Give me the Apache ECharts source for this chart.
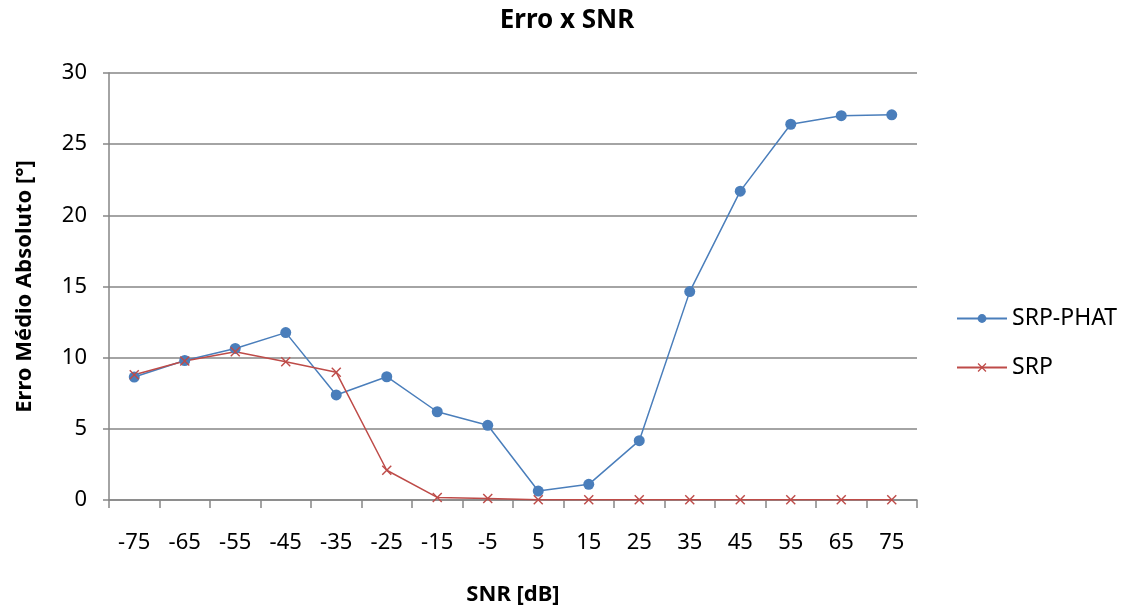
<!DOCTYPE html>
<html>
<head>
<meta charset="utf-8">
<script src="https://cdn.jsdelivr.net/npm/echarts@6/dist/echarts.min.js"></script>
<style>html,body{margin:0;padding:0;background:#fff;overflow:hidden}#c{width:1129px;height:612px}</style>
</head>
<body>
<div id="c"></div>
<script>
const categories = ['-75','-65','-55','-45','-35','-25','-15','-5','5','15','25','35','45','55','65','75'];
const srpPhat = [8.64, 9.8, 10.65, 11.76, 7.38, 8.66, 6.2, 5.25, 0.63, 1.1, 4.17, 14.64, 21.7, 26.4, 27.0, 27.06];
const srp = [8.8, 9.77, 10.42, 9.72, 8.97, 2.09, 0.18, 0.1, 0.02, 0.02, 0.02, 0.02, 0.02, 0.02, 0.02, 0.02];
const yTicks = {min: 0, max: 30, interval: 5};

const FONT = 'Noto Sans';
const crossPath = 'path://M1,0 L5,4 L9,0 L10,1 L6,5 L10,9 L9,10 L5,6 L1,10 L0,9 L4,5 L0,1 Z';

const chart = echarts.init(document.getElementById('c'), null, {renderer: 'canvas', width: 1129, height: 612});
chart.setOption({
  backgroundColor: '#fff',
  animation: false,
  title: {
    text: 'Erro x SNR',
    left: 562, top: 3, textAlign: 'center',
    textStyle: {fontFamily: FONT, fontWeight: 'bold', fontSize: 26, color: '#000'}
  },
  legend: {
    orient: 'vertical',
    left: 951, top: 299,
    itemWidth: 50, itemHeight: 11, itemGap: 20,
    textStyle: {fontFamily: FONT, fontSize: 23, color: '#000', lineHeight: 29},
    data: ['SRP-PHAT', 'SRP']
  },
  grid: {left: 109, right: 212, top: 73, bottom: 112, containLabel: false},
  xAxis: {
    type: 'category',
    data: categories,
    boundaryGap: true,
    name: 'SNR [dB]',
    nameLocation: 'middle',
    nameGap: 84,
    nameTextStyle: {fontFamily: FONT, fontWeight: 'bold', fontSize: 22, color: '#000'},
    axisLine: {lineStyle: {color: '#868686', width: 1.5}},
    axisTick: {show: true, alignWithLabel: false, length: 8, lineStyle: {color: '#868686', width: 1.5}},
    axisLabel: {fontFamily: FONT, fontSize: 22, color: '#000', margin: 32, interval: 0},
    splitLine: {show: false}
  },
  yAxis: {
    type: 'value',
    min: yTicks.min, max: yTicks.max, interval: yTicks.interval,
    name: 'Erro Médio Absoluto [°]',
    nameLocation: 'middle',
    nameGap: 73,
    nameRotate: 90,
    nameTextStyle: {fontFamily: FONT, fontWeight: 'bold', fontSize: 22, color: '#000'},
    axisLine: {show: true, lineStyle: {color: '#868686', width: 1.5}},
    axisTick: {show: true, length: 6, lineStyle: {color: '#868686', width: 1.5}},
    axisLabel: {fontFamily: FONT, fontSize: 22, color: '#000', margin: 22},
    splitLine: {show: true, lineStyle: {color: '#868686', width: 1.5}}
  },
  series: [
    {
      name: 'SRP-PHAT',
      type: 'line',
      data: srpPhat,
      symbol: 'circle',
      symbolSize: 11,
      itemStyle: {color: '#4a7ebb'},
      lineStyle: {color: '#4a7ebb', width: 1.5}
    },
    {
      name: 'SRP',
      type: 'line',
      data: srp,
      symbol: crossPath,
      symbolSize: 10,
      itemStyle: {color: '#be4b48'},
      lineStyle: {color: '#be4b48', width: 1.5}
    }
  ]
});
</script>
</body>
</html>
